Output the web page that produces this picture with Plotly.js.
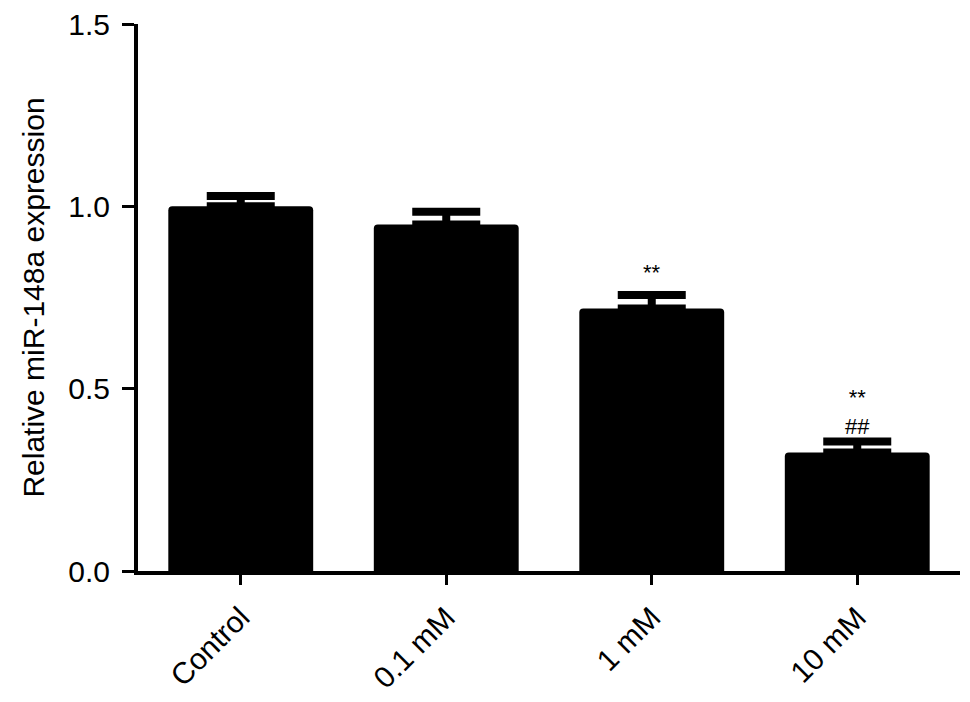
<!DOCTYPE html>
<html>
<head>
<meta charset="utf-8">
<script src="https://cdn.plot.ly/plotly-3.0.1.min.js"></script>
<style>
  html, body { margin: 0; padding: 0; background: #fff; }
  #grafico { width: 970px; height: 702px; }
</style>
</head>
<body>
<div id="grafico"></div>
<script>
// Dados
const grupos = ['Control', '0.1 mM', '1 mM', '10 mM'];
const expressao = [1.0, 0.95, 0.72, 0.325];
const erroPadrao = [0.028, 0.035, 0.037, 0.03];

// Marcas de significância (uma por grupo, linhas com <br>)
const marcaGrupo = ['1 mM', '10 mM'];
const marcaY = [0.819, 0.436];
const marcaTexto = ['**', '**<br>##'];

const fonte = 'Liberation Sans, Arial, sans-serif';

const barras = {
    x: grupos,
    y: expressao,
    type: 'bar',
    width: 0.705,
    marker: {
        color: '#000',
        cornerradius: 4,
        line: { width: 0 }
    },
    error_y: {
        type: 'data',
        array: erroPadrao,
        symmetric: false,
        arrayminus: [0, 0, 0, 0],
        color: '#000',
        thickness: 8,
        width: 34
    },
    hoverinfo: 'x+y'
};

const anotacoes = marcaTexto.map((txt, i) => ({
    x: marcaGrupo[i],
    y: marcaY[i],
    xref: 'x',
    yref: 'y',
    text: txt,
    showarrow: false,
    font: { family: fonte, size: 22, color: '#000' }
}));

const layout = {
    width: 970,
    height: 702,
    margin: { l: 138, r: 10, t: 24, b: 131 },
    paper_bgcolor: '#fff',
    plot_bgcolor: '#fff',
    showlegend: false,
    font: { family: fonte, color: '#000' },
    xaxis: {
        type: 'category',
        range: [-0.5, 3.5],
        showline: true,
        linecolor: '#000',
        linewidth: 4,
        ticks: 'outside',
        ticklen: 10,
        tickwidth: 3,
        tickcolor: '#000',
        tickangle: -45,
        ticklabelstandoff: 3,
        tickfont: { family: fonte, size: 30, color: '#000' },
        showgrid: false,
        zeroline: false
    },
    yaxis: {
        range: [0, 1.5],
        tickvals: [0, 0.5, 1.0, 1.5],
        ticktext: ['0.0', '0.5', '1.0', '1.5'],
        showline: true,
        linecolor: '#000',
        linewidth: 4,
        ticks: 'outside',
        ticklen: 12,
        tickwidth: 3,
        tickcolor: '#000',
        ticklabelstandoff: 6,
        tickfont: { family: fonte, size: 30, color: '#000' },
        showgrid: false,
        zeroline: false,
        title: {
            text: 'Relative miR-148a expression',
            font: { family: fonte, size: 30, color: '#000' },
            standoff: 16
        }
    },
    annotations: anotacoes
};

Plotly.newPlot('grafico', [barras], layout, { displayModeBar: false, staticPlot: true });
</script>
</body>
</html>
